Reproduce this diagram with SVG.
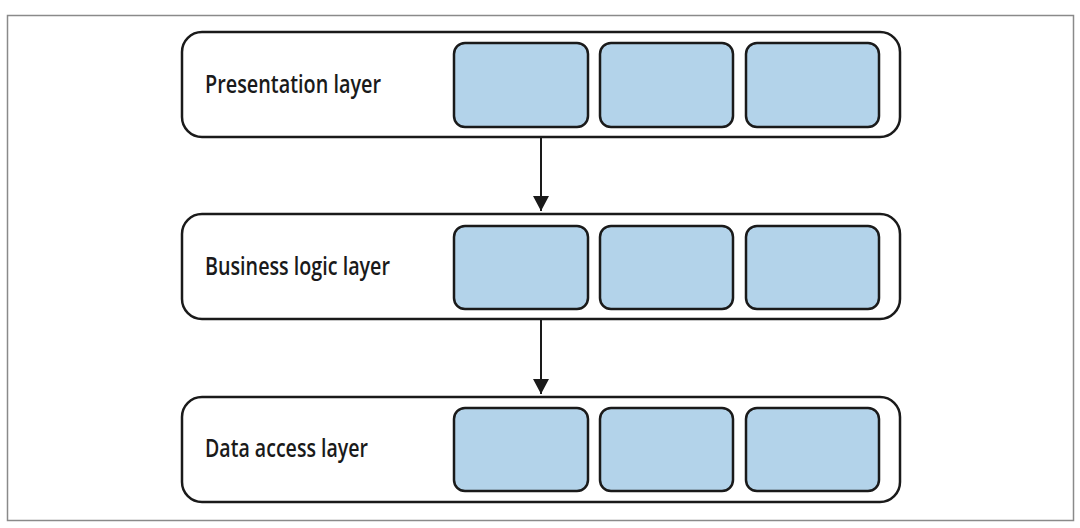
<svg xmlns="http://www.w3.org/2000/svg" width="1080" height="528" viewBox="0 0 1080 528">
  <defs>
    <style>
      .frame { fill: #ffffff; stroke: #8a8a8a; stroke-width: 1.5; }
      .layer { fill: #ffffff; stroke: #1a1a1a; stroke-width: 2.5; }
      .comp { fill: #b3d3ea; stroke: #1a1a1a; stroke-width: 2.5; }
      .label { font-family: "Open Sans", "Liberation Sans", sans-serif; font-weight: 600; font-size: 26px; fill: #1a1a1a; }
      .conn { stroke: #1a1a1a; stroke-width: 2; fill: none; }
    </style>
    <marker id="arrow" viewBox="0 0 15 16" refX="15" refY="8" markerWidth="15" markerHeight="16" markerUnits="userSpaceOnUse" orient="auto">
      <path d="M0,0 L15,8 L0,16 Z" fill="#1a1a1a"/>
    </marker>
  </defs>
  <rect width="1080" height="528" fill="#ffffff"/>
  <rect class="frame" x="7.5" y="15.5" width="1066" height="505"/>

  <g id="presentation-layer">
    <rect class="layer" x="182" y="32" width="718" height="105" rx="20"/>
    <text class="label" x="205" y="93" textLength="176" lengthAdjust="spacingAndGlyphs">Presentation layer</text>
    <rect class="comp" x="454" y="43" width="134" height="84" rx="11"/>
    <rect class="comp" x="600" y="43" width="133" height="84" rx="11"/>
    <rect class="comp" x="746" y="43" width="133" height="84" rx="11"/>
  </g>

  <g id="business-logic-layer">
    <rect class="layer" x="182" y="214" width="718" height="105" rx="20"/>
    <text class="label" x="205" y="275" textLength="185" lengthAdjust="spacingAndGlyphs">Business logic layer</text>
    <rect class="comp" x="454" y="226" width="134" height="83" rx="11"/>
    <rect class="comp" x="600" y="226" width="133" height="83" rx="11"/>
    <rect class="comp" x="746" y="226" width="133" height="83" rx="11"/>
  </g>

  <g id="data-access-layer">
    <rect class="layer" x="182" y="397" width="718" height="105" rx="20"/>
    <text class="label" x="205" y="457" textLength="163" lengthAdjust="spacingAndGlyphs">Data access layer</text>
    <rect class="comp" x="454" y="408" width="134" height="83" rx="11"/>
    <rect class="comp" x="600" y="408" width="133" height="83" rx="11"/>
    <rect class="comp" x="746" y="408" width="133" height="83" rx="11"/>
  </g>

  <g id="connectors">
    <line class="conn" x1="541" y1="138" x2="541" y2="211" marker-end="url(#arrow)"/>
    <line class="conn" x1="541" y1="320" x2="541" y2="394" marker-end="url(#arrow)"/>
  </g>
</svg>
